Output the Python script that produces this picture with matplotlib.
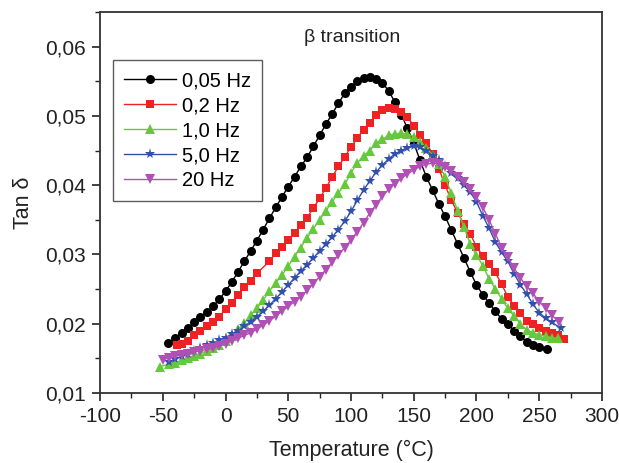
import matplotlib
matplotlib.use('Agg')
import matplotlib.pyplot as plt
from matplotlib.ticker import MultipleLocator, FuncFormatter

plt.rcParams['font.family'] = ['Liberation Sans', 'DejaVu Sans']
plt.rcParams['axes.unicode_minus'] = False

# 0,05 Hz
t1 = [-46, -40, -35, -30, -25, -20, -15, -10, -5, 0, 5, 10, 15, 20, 25, 30, 35, 40, 45, 50,
      55, 60, 65, 70, 75, 80, 85, 90, 95, 100, 105, 110, 115, 120, 125, 130, 135, 140, 145, 150,
      155, 160, 165, 170, 175, 180, 185, 190, 195, 200, 205, 210, 215, 220, 225, 230, 235, 240,
      245, 250, 256]
d1 = [0.0172, 0.0179, 0.0187, 0.0194, 0.0202, 0.0210, 0.0217, 0.0225, 0.0235, 0.0247, 0.0260,
      0.0275, 0.0290, 0.0305, 0.0320, 0.0336, 0.0352, 0.0368, 0.0383, 0.0398, 0.0412, 0.0427,
      0.0440, 0.0456, 0.0472, 0.0488, 0.0503, 0.0518, 0.0533, 0.0542, 0.0550, 0.0555, 0.0556,
      0.0553, 0.0548, 0.0536, 0.0520, 0.0502, 0.0482, 0.0461, 0.0436, 0.0412, 0.0393, 0.0373,
      0.0355, 0.0335, 0.0315, 0.0295, 0.0275, 0.0256, 0.0242, 0.0230, 0.0218, 0.0207, 0.0199,
      0.0190, 0.0182, 0.0174, 0.0169, 0.0166, 0.0163]

# 0,2 Hz
t2 = [-39, -35, -30, -25, -20, -15, -10, -5, 0, 5, 10, 15, 20, 25, 35, 40, 45, 50, 55, 60,
      65, 70, 75, 80, 85, 90, 95, 100, 105, 110, 115, 120, 125, 130, 135, 140, 145, 150, 155,
      160, 165, 170, 175, 180, 185, 190, 195, 200, 205, 210, 215, 220, 225, 230, 235, 240, 245,
      250, 255, 260, 265, 270]
d2 = [0.0169, 0.0171, 0.0175, 0.0183, 0.0190, 0.0196, 0.0203, 0.0210, 0.0221, 0.0230, 0.0242,
      0.0253, 0.0262, 0.0273, 0.0290, 0.0302, 0.0311, 0.0321, 0.0331, 0.0342, 0.0353, 0.0367,
      0.0381, 0.0396, 0.0412, 0.0427, 0.0441, 0.0455, 0.0468, 0.0480, 0.0490, 0.0502, 0.0508,
      0.0512, 0.0510, 0.0505, 0.0498, 0.0486, 0.0473, 0.0461, 0.0445, 0.0424, 0.0400, 0.0378,
      0.0360, 0.0344, 0.0330, 0.0311, 0.0298, 0.0286, 0.0274, 0.0257, 0.0239, 0.0226, 0.0215,
      0.0204, 0.0199, 0.0194, 0.0190, 0.0186, 0.0183, 0.0178]

# 1,0 Hz
t3 = [-52, -45, -40, -35, -30, -25, -20, -15, -10, -5, 0, 5, 10, 15, 20, 25, 30, 35, 40, 45,
      50, 55, 60, 65, 70, 75, 80, 85, 90, 95, 100, 105, 110, 115, 120, 125, 130, 135, 140, 145,
      150, 155, 160, 165, 170, 175, 180, 185, 190, 195, 200, 205, 210, 215, 220, 225, 230, 235,
      240, 245, 250, 255, 260, 265]
d3 = [0.0138, 0.0142, 0.0144, 0.0147, 0.0150, 0.0154, 0.0157, 0.0161, 0.0165, 0.0169, 0.0175,
      0.0182, 0.0192, 0.0201, 0.0212, 0.0222, 0.0234, 0.0247, 0.0259, 0.0270, 0.0283, 0.0297,
      0.0310, 0.0324, 0.0337, 0.0350, 0.0363, 0.0376, 0.0389, 0.0401, 0.0418, 0.0432, 0.0442,
      0.0450, 0.0461, 0.0466, 0.0472, 0.0474, 0.0475, 0.0474, 0.0470, 0.0463, 0.0453, 0.0443,
      0.0430, 0.0412, 0.0388, 0.0363, 0.0340, 0.0315, 0.0299, 0.0284, 0.0265, 0.0250, 0.0236,
      0.0222, 0.0211, 0.0200, 0.0191, 0.0187, 0.0184, 0.0182, 0.0180, 0.0179]

# 5,0 Hz
t4 = [-45, -40, -35, -30, -25, -20, -15, -10, -5, 0, 5, 10, 15, 20, 25, 30, 35, 40, 45, 50,
      55, 60, 65, 70, 75, 80, 85, 90, 95, 100, 105, 110, 115, 120, 125, 130, 135, 140, 145, 150,
      155, 160, 165, 170, 175, 180, 185, 190, 195, 200, 205, 210, 215, 220, 225, 230, 235, 240,
      245, 250, 255, 260, 267]
d4 = [0.0145, 0.0149, 0.0153, 0.0157, 0.0161, 0.0165, 0.0169, 0.0172, 0.0176, 0.0180, 0.0185,
      0.0190, 0.0196, 0.0203, 0.0210, 0.0218, 0.0227, 0.0236, 0.0246, 0.0256, 0.0266, 0.0276,
      0.0285, 0.0295, 0.0305, 0.0315, 0.0325, 0.0336, 0.0348, 0.0362, 0.0378, 0.0393, 0.0406,
      0.0419, 0.0429, 0.0438, 0.0445, 0.0450, 0.0454, 0.0456, 0.0455, 0.0450, 0.0442, 0.0436,
      0.0428, 0.0417, 0.0410, 0.0400, 0.0390, 0.0376, 0.0356, 0.0338, 0.0318, 0.0303, 0.0290,
      0.0272, 0.0256, 0.0243, 0.0228, 0.0216, 0.0208, 0.0202, 0.0194]

# 20 Hz
t5 = [-50, -45, -40, -35, -30, -25, -20, -15, -10, -5, 0, 5, 10, 15, 20, 25, 30, 35, 40, 45,
      50, 55, 60, 65, 70, 75, 80, 85, 90, 95, 100, 105, 110, 115, 120, 125, 130, 135, 140, 145,
      150, 155, 160, 165, 170, 175, 180, 185, 190, 195, 200, 205, 210, 215, 220, 225, 230, 235,
      240, 245, 250, 255, 260, 266]
d5 = [0.0148, 0.0151, 0.0153, 0.0155, 0.0157, 0.0159, 0.0161, 0.0163, 0.0165, 0.0168, 0.0171,
      0.0175, 0.0179, 0.0183, 0.0187, 0.0192, 0.0198, 0.0204, 0.0211, 0.0218, 0.0225, 0.0232,
      0.0239, 0.0248, 0.0258, 0.0268, 0.0278, 0.0289, 0.0299, 0.0310, 0.0321, 0.0333, 0.0346,
      0.0360, 0.0372, 0.0384, 0.0394, 0.0402, 0.0410, 0.0416, 0.0422, 0.0427, 0.0430, 0.0432,
      0.0430, 0.0426, 0.0420, 0.0412, 0.0405, 0.0394, 0.0383, 0.0368, 0.0350, 0.0330, 0.0310,
      0.0296, 0.0280, 0.0266, 0.0254, 0.0244, 0.0232, 0.0222, 0.0212, 0.0203]

labels = ['0,05 Hz', '0,2 Hz', '1,0 Hz', '5,0 Hz', '20 Hz']
colors = ['black', '#ee2222', '#66c83c', '#3350aa', '#b050b4']
markers = ['o', 's', '^', '*', 'v']
msizes = [6.5, 6, 7.5, 8, 7.5]

fig = plt.figure(figsize=(6.19, 4.63), dpi=100)
ax = fig.add_axes([0.1616, 0.1512, 0.8109, 0.8229])

series = [(t1, d1), (t2, d2), (t3, d3), (t4, d4), (t5, d5)]
for (t, d), lab, c, m, ms in zip(series, labels, colors, markers, msizes):
    ax.plot(t, d, color=c, marker=m, markersize=ms, linewidth=1.0, label=lab,
            markeredgewidth=0)

ax.set_xlim(-100, 300)
ax.set_ylim(0.01, 0.065)
ax.xaxis.set_major_locator(MultipleLocator(50))
ax.xaxis.set_minor_locator(MultipleLocator(25))
ax.yaxis.set_major_locator(MultipleLocator(0.01))
ax.yaxis.set_minor_locator(MultipleLocator(0.005))
ax.yaxis.set_major_formatter(FuncFormatter(lambda v, p: ('%.2f' % v).replace('.', ',')))

ax.tick_params(which='major', direction='out', length=6, width=1.2, labelsize=15,
               colors='#222222', top=False, right=False, pad=4)
ax.tick_params(which='minor', direction='out', length=3.5, width=1.0,
               colors='#222222', top=False, right=False)
for s in ax.spines.values():
    s.set_linewidth(1.3)
    s.set_color('#333333')

ax.set_xlabel('Temperature (°C)', fontsize=15.5, color='#222222', labelpad=10)
ax.set_ylabel('Tan δ', fontsize=15.5, color='#222222', labelpad=8)

ax.text(101, 0.0613, 'β transition', fontsize=14, ha='center', va='center',
        color='#222222')

leg = ax.legend(loc='upper left', bbox_to_anchor=(0.025, 0.874), fontsize=14.5,
                frameon=True, fancybox=False, edgecolor='#333333', handlelength=2.6,
                handletextpad=0.3, borderpad=0.55, labelspacing=0.3, borderaxespad=0)
leg.get_frame().set_linewidth(1.0)

fig.savefig('out.png', dpi=100)
